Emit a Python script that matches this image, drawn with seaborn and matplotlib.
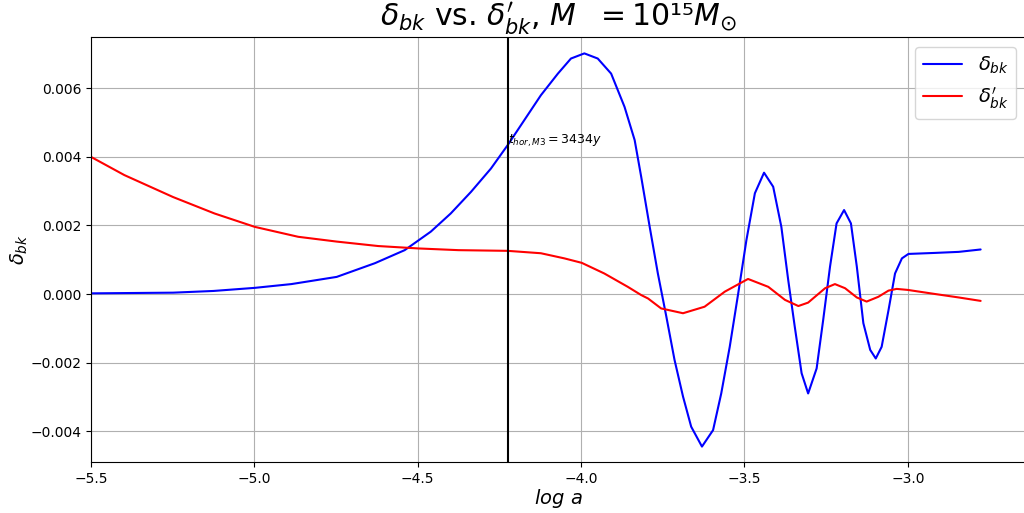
import matplotlib
matplotlib.use("Agg")
import matplotlib.pyplot as plt
import matplotlib.ticker as mticker
import seaborn as sns
import pandas as pd

# ---- data ----
blue_x = [-5.5, -5.249, -5.125, -4.999, -4.887, -4.748, -4.631, -4.540, -4.460, -4.399,
          -4.337, -4.276, -4.225, -4.174, -4.123, -4.071, -4.031, -3.990, -3.949, -3.908,
          -3.867, -3.836, -3.816, -3.790, -3.765, -3.739, -3.714, -3.688, -3.663, -3.630,
          -3.596, -3.571, -3.545, -3.519, -3.494, -3.468, -3.440, -3.412, -3.387, -3.366,
          -3.346, -3.325, -3.305, -3.279, -3.259, -3.238, -3.218, -3.195, -3.174, -3.156,
          -3.136, -3.115, -3.098, -3.080, -3.059, -3.039, -3.018, -2.998, -2.916, -2.844,
          -2.777]
blue_y = [0.00002, 0.00004, 0.00009, 0.00018, 0.00029, 0.00050, 0.00090, 0.00128, 0.00182, 0.00235,
          0.00298, 0.00366, 0.00434, 0.00507, 0.00580, 0.00643, 0.00687, 0.00702, 0.00687, 0.00643,
          0.00546, 0.00449, 0.00342, 0.00196, 0.00060, -0.00066, -0.00192, -0.00299, -0.00387, -0.00445,
          -0.00397, -0.00290, -0.00154, 0.00002, 0.00157, 0.00294, 0.00354, 0.00313, 0.00196, 0.00041,
          -0.00095, -0.00231, -0.00290, -0.00217, -0.00076, 0.00080, 0.00206, 0.00245, 0.00206, 0.00080,
          -0.00085, -0.00163, -0.00188, -0.00154, -0.00047, 0.00060, 0.00104, 0.00117, 0.00120, 0.00123,
          0.00130]

red_x = [-5.5, -5.398, -5.249, -5.122, -4.999, -4.866, -4.748, -4.621, -4.498, -4.375,
         -4.225, -4.123, -4.051, -3.998, -3.929, -3.857, -3.816, -3.795, -3.755, -3.688,
         -3.622, -3.560, -3.489, -3.427, -3.376, -3.335, -3.305, -3.284, -3.253, -3.223,
         -3.192, -3.156, -3.126, -3.090, -3.059, -3.034, -3.000, -2.916, -2.844, -2.777]
red_y = [0.00400, 0.00347, 0.00283, 0.00235, 0.00196, 0.00167, 0.00153, 0.00140, 0.00133, 0.00128,
         0.00126, 0.00119, 0.00104, 0.00091, 0.00060, 0.00021, -0.00003, -0.00013, -0.00042, -0.00056,
         -0.00037, 0.00007, 0.00044, 0.00021, -0.00017, -0.00035, -0.00025, -0.00008, 0.00017, 0.00029,
         0.00017, -0.00010, -0.00022, -0.00008, 0.00010, 0.00015, 0.00012, 0.00000, -0.00010, -0.00020]

x_hor = -4.224
label_hor = r"$t_{hor,M3} = 3434y$"
title = r"$\delta_{bk}$ vs. $\delta_{bk}'$, $M\ \ =10$¹⁵$M_{\odot}$"
xticks = [-5.5, -5.0, -4.5, -4.0, -3.5, -3.0]
yticks = [-0.004, -0.002, 0.0, 0.002, 0.004, 0.006]

sns.set_style("ticks", rc={"text.color": "black", "axes.labelcolor": "black",
                           "xtick.color": "black", "ytick.color": "black"})
plt.rcParams["font.family"] = ["DejaVu Sans"]
fig = plt.figure(figsize=(10.24, 5.13), dpi=100)
ax = fig.add_axes([0.0889, 0.0994, 0.9131, 0.8286])

df_b = pd.DataFrame({"x": blue_x, "y": blue_y})
df_r = pd.DataFrame({"x": red_x, "y": red_y})
sns.lineplot(data=df_b, x="x", y="y", ax=ax, color="blue", lw=1.5, label=r"$\delta_{bk}$", sort=False)
sns.lineplot(data=df_r, x="x", y="y", ax=ax, color="red", lw=1.5, label=r"$\delta_{bk}'$", sort=False)

ax.axvline(x_hor, color="black", lw=1.5)
ax.text(x_hor, 0.00437, label_hor, fontsize=9)

ax.set_xlim(-5.5, -2.638)
ax.set_ylim(-0.0049, 0.0075)
ax.set_xticks(xticks)
ax.set_yticks(yticks)
ax.yaxis.set_major_formatter(mticker.FuncFormatter(lambda v, p: f"{v:.3f}".replace("-", "\u2212")))
ax.xaxis.set_major_formatter(mticker.FuncFormatter(lambda v, p: f"{v:.1f}".replace("-", "\u2212")))
ax.tick_params(labelsize=10)
ax.grid(True, color="#b0b0b0", lw=0.8)
ax.set_xlabel(r"$log\ a$", fontsize=14, labelpad=1)
ax.set_ylabel(r"$\delta_{bk}$", fontsize=14, labelpad=0)
ax.set_title(title, fontsize=21.5, pad=1)
ax.legend(loc="upper right", fontsize=14)
for s in ax.spines.values():
    s.set_color("black")
    s.set_linewidth(0.8)

fig.savefig("out.png", dpi=100)
